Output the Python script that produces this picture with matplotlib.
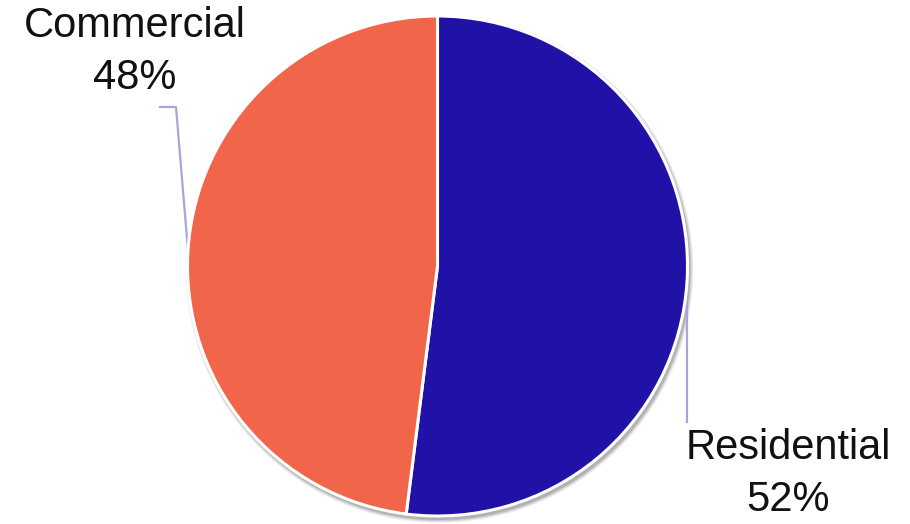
import numpy as np
import matplotlib
matplotlib.use("Agg")
import matplotlib.pyplot as plt
from matplotlib.patches import Circle

categories = ["Residential", "Commercial"]
shares = [52, 48]
colors = ["#2012A6", "#F1654A"]

W, H = 910, 524
fig = plt.figure(figsize=(W / 100, H / 100), dpi=100)
ax = fig.add_axes([0, 0, 1, 1])
ax.set_xlim(0, W)
ax.set_ylim(0, H)
ax.set_aspect("equal")
ax.axis("off")

cx, cy, r = 437.5, H - 266, 250

# soft drop shadow
for i, a in enumerate([0.05, 0.07, 0.09, 0.12]):
    ax.add_patch(Circle((cx + 2, cy - 3), r + 4 - i, color="black", alpha=a, lw=0, zorder=0))

wedges, _ = ax.pie(shares, colors=colors, startangle=90, counterclock=False,
                   center=(cx, cy), radius=r, frame=True,
                   wedgeprops=dict(edgecolor="white", linewidth=2.2))
for w in wedges:
    w.set_zorder(2)
ax.set_xlim(0, W)
ax.set_ylim(0, H)
ax.axis("off")

line_color = "#A7A5DA"
font = dict(family=["Liberation Sans", "DejaVu Sans"], fontsize=30, color="#111111")

for w, cat, val in zip(wedges, categories, shares):
    mid = np.deg2rad((w.theta1 + w.theta2) / 2)
    px, py = cx + r * np.cos(mid), cy + r * np.sin(mid)
    label = f"{cat}\n{val}%"
    if np.cos(mid) > 0:
        ax.plot([px, px], [py, H - 422], color=line_color, lw=1.6, zorder=1)
        ax.text(788, H - 474, label, ha="center", va="center", linespacing=1.4, **font)
    else:
        ax.plot([px, 176, 160], [py, H - 107, H - 107], color=line_color, lw=1.6, zorder=1)
        ax.text(135, H - 52, label, ha="center", va="center", linespacing=1.4, **font)

fig.savefig("out.png", dpi=100)
